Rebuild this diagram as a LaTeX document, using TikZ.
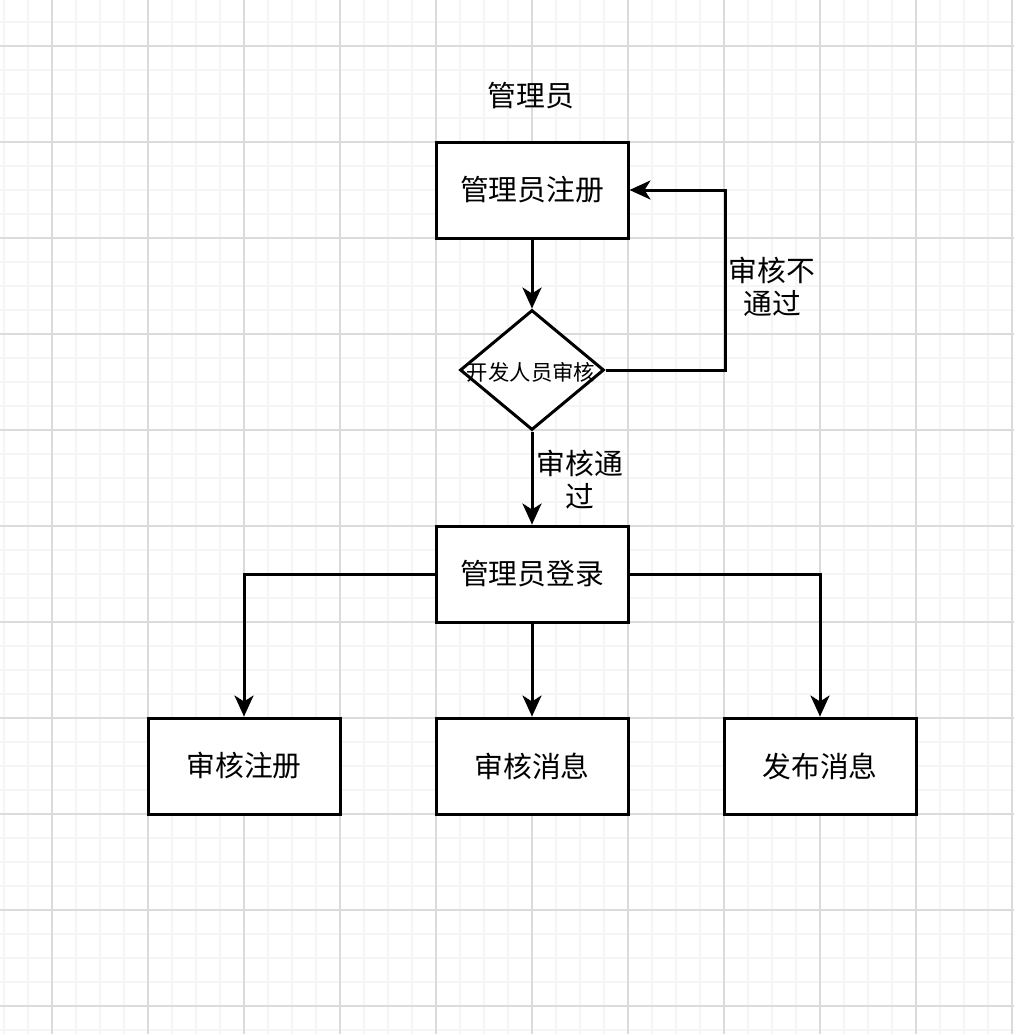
\documentclass[tikz,border=0pt]{standalone}
\usepackage{fontspec}
\newfontfamily\cjk{Noto Sans CJK SC}
\usetikzlibrary{arrows.meta,shapes.geometric}
\begin{document}
\begin{tikzpicture}[x=1pt,y=-1pt,
  minorline/.style={draw=black!4,line width=1.2pt},
  majorline/.style={draw=black!14,line width=1.2pt},
  box/.style={draw=black,line width=3pt,minimum width=192pt,minimum height=96pt,inner sep=0pt,fill=white,
    font=\cjk\fontsize{28.8pt}{34pt}\selectfont},
  decision/.style={draw=black,line width=3pt,shape=diamond,minimum width=144pt,minimum height=120pt,inner sep=0pt,fill=white},
  dtext/.style={font=\cjk\fontsize{21.4pt}{26pt}\selectfont,inner sep=0pt},
  lbl/.style={font=\cjk\fontsize{28.8pt}{33pt}\selectfont,align=center,inner sep=0pt},
  conn/.style={draw=black,line width=3pt,line join=miter,-{Stealth[length=21pt,width=19pt,inset=6pt]}}]
\useasboundingbox (0,0) rectangle (1014,1034);
\fill[white] (0,0) rectangle (1014,1034);
\begin{scope}
\clip (0,0) rectangle (1014,1034);
\foreach \i in {0,...,43} {\draw[minorline] ({4+24*\i},0) -- ({4+24*\i},1034);}
\foreach \j in {0,...,44} {\draw[minorline] (0,{-2+24*\j}) -- (1014,{-2+24*\j});}
\foreach \i in {0,...,10} {\draw[majorline] ({52+96*\i},0) -- ({52+96*\i},1034);}
\foreach \j in {0,...,10} {\draw[majorline] (0,{46+96*\j}) -- (1014,{46+96*\j});}
\end{scope}

\node[lbl] (title) at (531,96) {管理员};
\node[box] (reg) at (532,190) {管理员注册};
\node[decision] (chk) at (532,370) {};
\node[dtext] (chkt) at (531,372) {开发人员审核};
\node[box] (login) at (532,574) {管理员登录};
\node[box] (a1) at (244,766) {审核注册};
\node[box] (a2) at (532,766) {审核消息};
\node[box] (a3) at (820,766) {发布消息};

\node[lbl] (nopass) at (772,287) {审核不\\通过};
\node[lbl] (pass) at (580,480) {审核通\\过};

\draw[conn] (reg.south) -- (chk.north);
\draw[conn] (chk.east) -- ++(120,0) |- (reg.east);
\draw[conn] (chk.south) -- (login.north);
\draw[conn] (login.west) -| (a1.north);
\draw[conn] (login.south) -- (a2.north);
\draw[conn] (login.east) -| (a3.north);
\end{tikzpicture}
\end{document}
